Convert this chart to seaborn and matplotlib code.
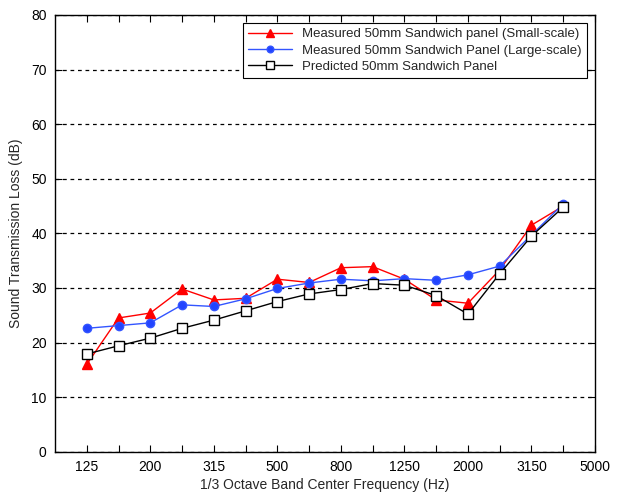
import matplotlib
matplotlib.use("Agg")
import matplotlib.pyplot as plt
import seaborn as sns
import numpy as np
import pandas as pd

bands = ["125", "160", "200", "250", "315", "400", "500", "630", "800", "1000",
         "1250", "1600", "2000", "2500", "3150", "4000", "5000"]
data_bands = bands[:16]

small_scale = [16.0, 24.5, 25.4, 29.8, 27.8, 28.1, 31.6, 31.0, 33.7, 33.9,
               31.6, 27.8, 27.2, 33.3, 41.5, 45.0]
large_scale = [22.6, 23.1, 23.6, 26.9, 26.6, 28.0, 29.9, 30.9, 31.6, 31.3,
               31.7, 31.4, 32.4, 34.0, 39.7, 45.4]
predicted = [17.9, 19.4, 20.8, 22.6, 24.1, 25.8, 27.5, 28.9, 29.7, 30.8,
             30.5, 28.6, 25.2, 32.6, 39.5, 44.8]

labels = ["Measured 50mm Sandwich panel (Small-scale)",
          "Measured 50mm Sandwich Panel (Large-scale)",
          "Predicted 50mm Sandwich Panel"]

sns.set_theme(style="white")
plt.rcParams['font.family'] = ['Liberation Sans', 'DejaVu Sans']

fig = plt.figure(figsize=(6.22, 4.95), dpi=100)
ax = fig.add_axes([0.0884, 0.0875, 0.8682, 0.8822])

pos = np.arange(len(data_bands))
df = pd.DataFrame({"pos": np.concatenate([pos, pos, pos]),
                   "val": small_scale + large_scale + predicted,
                   "series": [labels[0]] * 16 + [labels[1]] * 16 + [labels[2]] * 16})

styles = [dict(color="#ff0000", marker="^", markersize=7, mfc="#ff0000", mec="#ff0000"),
          dict(color="#3355ff", marker="o", markersize=6, mfc="#2244ff", mec="#3355ff"),
          dict(color="black", marker="s", markersize=6.5, mfc="white", mec="black", markeredgewidth=1.0)]

for lab, st in zip(labels, styles):
    sub = df[df["series"] == lab]
    sns.lineplot(data=sub, x="pos", y="val", ax=ax, label=lab, linewidth=1.0,
                 color=st["color"], marker=st["marker"], markersize=st["markersize"],
                 markerfacecolor=st["mfc"], markeredgecolor=st["mec"],
                 markeredgewidth=st.get("markeredgewidth", 1.0), zorder=3)

ax.set_xlim(-1, 16)
ax.set_ylim(0, 80)
ax.set_xticks(np.arange(0, 17))
ax.set_xticklabels([b if i % 2 == 0 else "" for i, b in enumerate(bands)])
ax.set_yticks(np.arange(0, 81, 10))
ax.yaxis.grid(True, linestyle=(0, (3, 3)), color="black", linewidth=0.9)
ax.xaxis.grid(False)
ax.tick_params(direction="in", length=5, width=0.8, colors="black",
               top=True, right=True, labelsize=10, pad=6)
ax.tick_params(axis="x", bottom=True, top=True)
ax.tick_params(axis="y", left=True, right=True)
for s in ax.spines.values():
    s.set_color("black")
    s.set_linewidth(1.0)
ax.set_xlabel("1/3 Octave Band Center Frequency (Hz)", fontsize=10, labelpad=3)
ax.set_ylabel("Sound Transmission Loss (dB)", fontsize=10, labelpad=6)

leg = ax.legend(loc="upper right", fontsize=9.5, frameon=True, fancybox=False,
                edgecolor="black", framealpha=1, borderpad=0.4, labelspacing=0.3,
                handlelength=3.3, borderaxespad=0.6, markerscale=0.8)
leg.get_frame().set_linewidth(0.8)

fig.savefig("out.png", dpi=100, facecolor="white")
